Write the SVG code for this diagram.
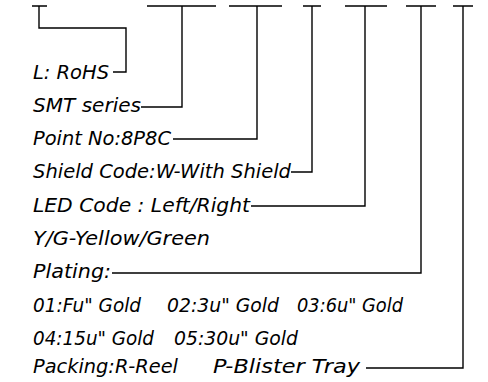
<svg xmlns="http://www.w3.org/2000/svg" width="488" height="382" viewBox="0 0 488 382">
<style>
.t{font-family:"DejaVu Sans","Liberation Sans",sans-serif;font-style:oblique;font-size:19px;fill:#000}
.c{fill:none;stroke:#000;stroke-width:1.4}
</style>
<rect width="488" height="382" fill="#fff"/>
<g id="connectors">
<path class="c" d="M32,6H47M39,6V28H126V72H113"/>
<path class="c" d="M147,6H216M182,6V107H141"/>
<path class="c" d="M229,6H282M257,6V139H173"/>
<path class="c" d="M303,6H321M312,6V172H291"/>
<path class="c" d="M345,6H387M365,6V206H251"/>
<path class="c" d="M406,6H436M421,6V273H112"/>
<path class="c" d="M453,6H473M463,6V368H366"/>
</g>
<g id="rohs"><text class="t" x="33" y="79" textLength="76" lengthAdjust="spacingAndGlyphs">L: RoHS</text></g>
<g id="series"><text class="t" x="33" y="112" textLength="108" lengthAdjust="spacingAndGlyphs">SMT series</text></g>
<g id="point"><text class="t" x="33" y="145" textLength="138" lengthAdjust="spacingAndGlyphs">Point No:8P8C</text></g>
<g id="shield"><text class="t" x="33" y="178" textLength="258" lengthAdjust="spacingAndGlyphs">Shield Code:W-With Shield</text></g>
<g id="led"><text class="t" x="33" y="212" textLength="217" lengthAdjust="spacingAndGlyphs">LED Code : Left/Right</text></g>
<g id="color"><text class="t" x="33" y="245" textLength="177" lengthAdjust="spacingAndGlyphs">Y/G-Yellow/Green</text></g>
<g id="plating"><text class="t" x="33" y="278" textLength="78" lengthAdjust="spacingAndGlyphs">Plating:</text></g>
<g id="plating-options">
<text class="t" x="33" y="312" textLength="108" lengthAdjust="spacingAndGlyphs">01:Fu" Gold</text>
<text class="t" x="167" y="312" textLength="112" lengthAdjust="spacingAndGlyphs">02:3u" Gold</text>
<text class="t" x="297" y="312" textLength="106" lengthAdjust="spacingAndGlyphs">03:6u" Gold</text>
<text class="t" x="33" y="345" textLength="121" lengthAdjust="spacingAndGlyphs">04:15u" Gold</text>
<text class="t" x="174" y="345" textLength="124" lengthAdjust="spacingAndGlyphs">05:30u" Gold</text>
</g>
<g id="packing">
<text class="t" x="33" y="373" textLength="145" lengthAdjust="spacingAndGlyphs">Packing:R-Reel</text>
<text class="t" x="213" y="373" textLength="147" lengthAdjust="spacingAndGlyphs">P-Blister Tray</text>
</g>
</svg>
